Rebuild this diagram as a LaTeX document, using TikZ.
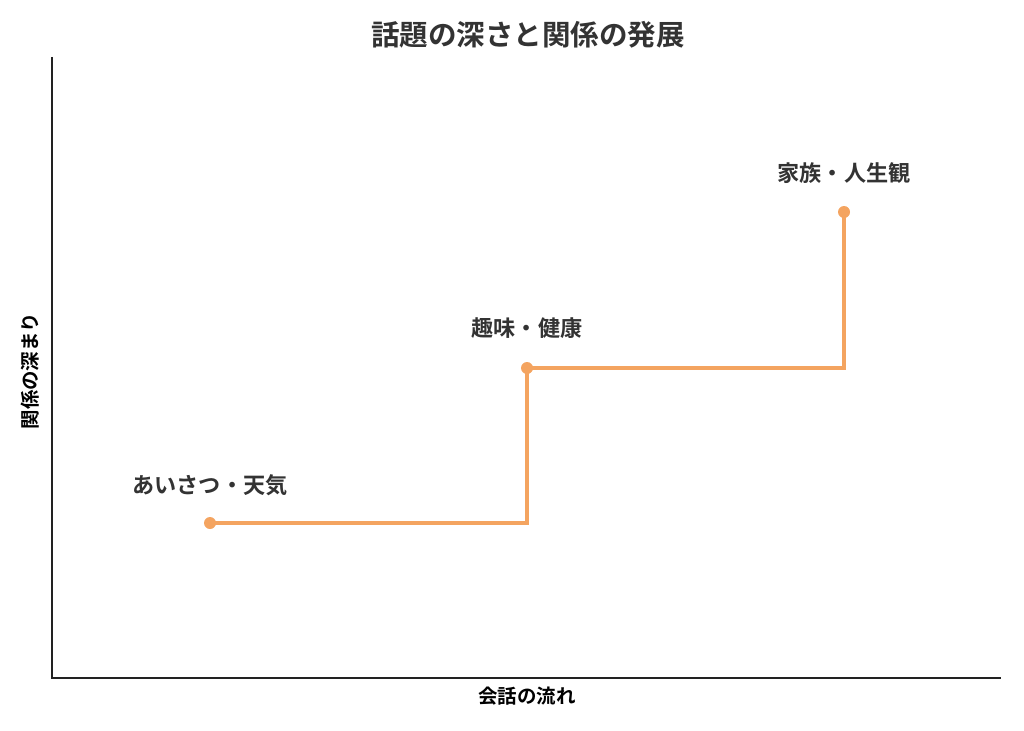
\documentclass[tikz,border=0pt]{standalone}
\usepackage{fontspec}
\newfontfamily\jpfont{Noto Sans CJK JP}[BoldFont={* Bold}]
\usepackage{tikz}
\usetikzlibrary{positioning,calc}
\usepackage{xcolor}
\definecolor{stepline}{HTML}{F4A460}
\definecolor{inktext}{HTML}{333333}
\definecolor{axisgray}{HTML}{222222}

\begin{document}
\begin{tikzpicture}[
    x=0.75pt, y=-0.75pt,
    dot/.style={circle, fill=stepline, inner sep=0pt, minimum size=9pt},
    lbl/.style={font=\jpfont\bfseries\fontsize{16.6}{18}\selectfont, text=inktext},
    axlbl/.style={font=\jpfont\bfseries\fontsize{14.6}{16}\selectfont, text=black},
    path/.style={draw=stepline, line width=2.3pt},
    axis/.style={draw=axisgray, line width=1.5pt},
]
\useasboundingbox (0,0) rectangle (1024,731);

% title
\node[font=\jpfont\bfseries\fontsize{21.4}{24}\selectfont, text=inktext] (title) at (528,35) {話題の深さと関係の発展};

% axes
\coordinate (orig) at (52,678);
\coordinate (ytop) at (52,57);
\coordinate (xend) at (1001,678);
\draw[axis] (ytop) -- (orig) -- (xend);
\node[axlbl] (xlab) at (527,696) {会話の流れ};
\node[axlbl, rotate=90] (ylab) at (30,371) {関係の深まり};

% steps
\node[dot] (s1) at (210,523) {};
\node[dot] (s2) at (527,368) {};
\node[dot] (s3) at (844,212) {};
\coordinate (c1) at (527,523);
\coordinate (c2) at (844,368);
\draw[path] (s1.center) -- (c1) -- (s2.center) -- (c2) -- (s3.center);

\node[lbl] (l1) at (210,485) {あいさつ・天気};
\node[lbl] (l2) at (527,328) {趣味・健康};
\node[lbl] (l3) at (844,173) {家族・人生観};

\end{tikzpicture}
\end{document}
